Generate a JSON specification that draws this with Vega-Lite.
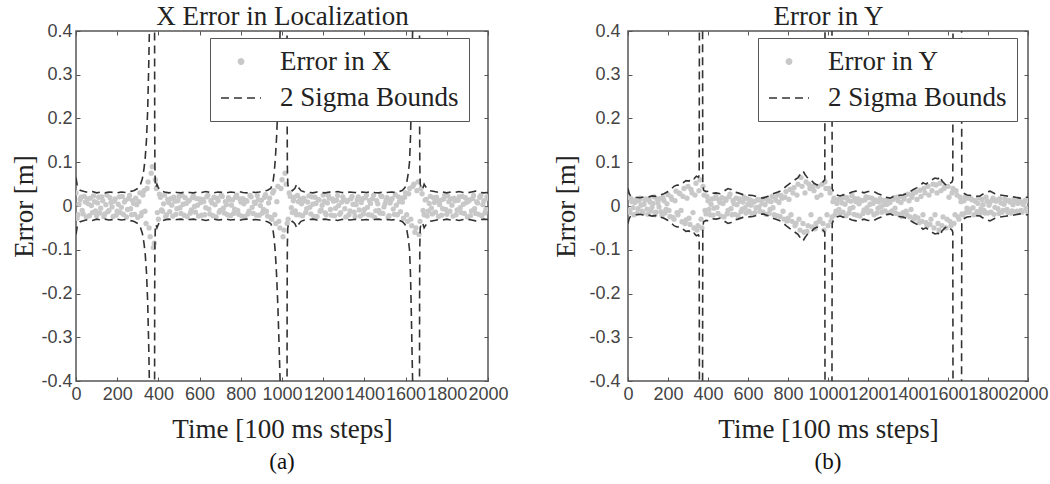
{
  "$schema": "https://vega.github.io/schema/vega-lite/v6.json",
  "background": "white",
  "padding": {"left": 10, "top": 1, "right": 5, "bottom": 2},
  "config": {
    "view": {"stroke": "#555", "strokeWidth": 1.5},
    "axis": {"grid": false, "domain": false, "tickColor": "#555", "tickSize": -4, "tickWidth": 1, "labelFont": "Liberation Sans", "labelFontSize": 18, "labelColor": "#444", "labelFlush": false, "labelOverlap": false, "titleFont": "Liberation Serif", "titleFontSize": 27, "titleFontWeight": "normal", "titleColor": "#222"},
    "title": {"font": "Liberation Serif", "fontSize": 23, "fontWeight": "normal", "color": "#111"},
    "legend": {"title": null, "orient": "none", "legendY": 7, "fillColor": "white", "strokeColor": "#555", "padding": 10, "labelOffset": 18, "rowPadding": 2, "labelFont": "Liberation Serif", "labelFontSize": 27, "labelColor": "#222", "labelLimit": 400, "symbolStrokeWidth": 1.5, "symbolOpacity": 1},
    "concat": {"spacing": 43}
  },
  "resolve": {"scale": {"color": "independent", "shape": "independent", "size": "independent", "strokeDash": "independent"}, "legend": {"color": "independent", "shape": "independent", "size": "independent", "strokeDash": "independent"}},
  "hconcat": [
    {
      "width": 412, "height": 350,
      "title": {"text": "(a)", "orient": "bottom", "offset": 9},
      "resolve": {"axis": {"x": "independent", "y": "independent"}},
      "layer": [
        {
          "data": {"values": [
{"t":0,"e":0.03},{"t":10,"e":-0.02},{"t":20,"e":0.015},{"t":30,"e":-0.01},{"t":40,"e":0.022},{"t":50,"e":-0.025},{"t":60,"e":0.005},{"t":70,"e":0.018},{"t":80,"e":-0.015},{"t":90,"e":0.01},
{"t":100,"e":-0.022},{"t":110,"e":0.02},{"t":120,"e":-0.005},{"t":130,"e":0.012},{"t":140,"e":-0.018},{"t":150,"e":0.025},{"t":160,"e":-0.01},{"t":170,"e":0.008},{"t":180,"e":-0.024},{"t":190,"e":0.016},
{"t":200,"e":-0.012},{"t":210,"e":0.021},{"t":220,"e":-0.003},{"t":230,"e":-0.019},{"t":240,"e":0.013},{"t":250,"e":-0.008},{"t":260,"e":0.024},{"t":270,"e":-0.02},{"t":280,"e":0.006},{"t":290,"e":0.018},
{"t":300,"e":-0.026},{"t":310,"e":0.03},{"t":320,"e":-0.015},{"t":330,"e":0.035},{"t":340,"e":-0.04},{"t":350,"e":0.055},{"t":360,"e":-0.07},{"t":370,"e":0.09},{"t":380,"e":-0.085},{"t":390,"e":0.04},
{"t":400,"e":-0.03},{"t":410,"e":0.02},{"t":420,"e":-0.012},{"t":430,"e":0.025},{"t":440,"e":-0.02},{"t":450,"e":0.008},{"t":460,"e":0.017},{"t":470,"e":-0.023},{"t":480,"e":0.011},{"t":490,"e":-0.006},
{"t":500,"e":0.022},{"t":510,"e":-0.017},{"t":520,"e":0.004},{"t":530,"e":0.019},{"t":540,"e":-0.024},{"t":550,"e":0.013},{"t":560,"e":-0.009},{"t":570,"e":0.023},{"t":580,"e":-0.014},{"t":590,"e":0.002},
{"t":600,"e":0.016},{"t":610,"e":-0.021},{"t":620,"e":0.01},{"t":630,"e":-0.004},{"t":640,"e":0.024},{"t":650,"e":-0.018},{"t":660,"e":0.007},{"t":670,"e":0.02},{"t":680,"e":-0.025},{"t":690,"e":0.012},
{"t":700,"e":-0.01},{"t":710,"e":0.022},{"t":720,"e":-0.016},{"t":730,"e":0.003},{"t":740,"e":0.019},{"t":750,"e":-0.022},{"t":760,"e":0.014},{"t":770,"e":-0.007},{"t":780,"e":0.025},{"t":790,"e":-0.019},
{"t":800,"e":0.009},{"t":810,"e":0.017},{"t":820,"e":-0.024},{"t":830,"e":0.011},{"t":840,"e":-0.012},{"t":850,"e":0.021},{"t":860,"e":-0.017},{"t":870,"e":0.006},{"t":880,"e":0.024},{"t":890,"e":-0.021},
{"t":900,"e":0.013},{"t":910,"e":-0.008},{"t":920,"e":0.026},{"t":930,"e":-0.023},{"t":940,"e":0.018},{"t":950,"e":-0.03},{"t":960,"e":0.035},{"t":970,"e":-0.04},{"t":980,"e":0.045},{"t":990,"e":-0.05},
{"t":1000,"e":0.06},{"t":1010,"e":-0.055},{"t":1020,"e":0.05},{"t":1030,"e":-0.03},{"t":1040,"e":0.022},{"t":1050,"e":-0.015},{"t":1060,"e":0.02},{"t":1070,"e":-0.02},{"t":1080,"e":0.01},{"t":1090,"e":0.016},
{"t":1100,"e":-0.022},{"t":1110,"e":0.012},{"t":1120,"e":-0.006},{"t":1130,"e":0.023},{"t":1140,"e":-0.018},{"t":1150,"e":0.004},{"t":1160,"e":0.02},{"t":1170,"e":-0.024},{"t":1180,"e":0.014},{"t":1190,"e":-0.009},
{"t":1200,"e":0.025},{"t":1210,"e":-0.016},{"t":1220,"e":0.007},{"t":1230,"e":0.018},{"t":1240,"e":-0.021},{"t":1250,"e":0.011},{"t":1260,"e":-0.005},{"t":1270,"e":0.024},{"t":1280,"e":-0.019},{"t":1290,"e":0.009},
{"t":1300,"e":0.015},{"t":1310,"e":-0.025},{"t":1320,"e":0.013},{"t":1330,"e":-0.011},{"t":1340,"e":0.022},{"t":1350,"e":-0.014},{"t":1360,"e":0.003},{"t":1370,"e":0.021},{"t":1380,"e":-0.023},{"t":1390,"e":0.016},
{"t":1400,"e":-0.008},{"t":1410,"e":0.025},{"t":1420,"e":-0.02},{"t":1430,"e":0.006},{"t":1440,"e":0.017},{"t":1450,"e":-0.026},{"t":1460,"e":0.012},{"t":1470,"e":-0.01},{"t":1480,"e":0.023},{"t":1490,"e":-0.017},
{"t":1500,"e":0.005},{"t":1510,"e":0.019},{"t":1520,"e":-0.022},{"t":1530,"e":0.014},{"t":1540,"e":-0.007},{"t":1550,"e":0.026},{"t":1560,"e":-0.02},{"t":1570,"e":0.01},{"t":1580,"e":0.018},{"t":1590,"e":-0.028},
{"t":1600,"e":0.03},{"t":1610,"e":-0.035},{"t":1620,"e":0.04},{"t":1630,"e":-0.045},{"t":1640,"e":0.05},{"t":1650,"e":-0.05},{"t":1660,"e":0.055},{"t":1670,"e":-0.035},{"t":1680,"e":0.028},{"t":1690,"e":-0.02},
{"t":1700,"e":0.015},{"t":1710,"e":-0.012},{"t":1720,"e":0.022},{"t":1730,"e":-0.018},{"t":1740,"e":0.008},{"t":1750,"e":0.02},{"t":1760,"e":-0.024},{"t":1770,"e":0.013},{"t":1780,"e":-0.006},{"t":1790,"e":0.025},
{"t":1800,"e":-0.019},{"t":1810,"e":0.01},{"t":1820,"e":0.016},{"t":1830,"e":-0.023},{"t":1840,"e":0.012},{"t":1850,"e":-0.009},{"t":1860,"e":0.021},{"t":1870,"e":-0.015},{"t":1880,"e":0.004},{"t":1890,"e":0.019},
{"t":1900,"e":-0.025},{"t":1910,"e":0.014},{"t":1920,"e":-0.011},{"t":1930,"e":0.024},{"t":1940,"e":-0.017},{"t":1950,"e":0.007},{"t":1960,"e":0.02},{"t":1970,"e":-0.022},{"t":1980,"e":0.012},{"t":1990,"e":-0.008},{"t":2000,"e":0.018},
{"t":5,"e":-0.028},{"t":15,"e":0.004},{"t":25,"e":0.02},{"t":35,"e":-0.018},{"t":45,"e":0.009},{"t":55,"e":0.016},{"t":65,"e":-0.022},{"t":75,"e":0.001},{"t":85,"e":0.023},{"t":95,"e":-0.011},
{"t":105,"e":0.007},{"t":115,"e":-0.016},{"t":125,"e":0.021},{"t":135,"e":-0.024},{"t":145,"e":0.003},{"t":155,"e":-0.013},{"t":165,"e":0.019},{"t":175,"e":-0.002},{"t":185,"e":0.011},{"t":195,"e":-0.021},
{"t":205,"e":0.004},{"t":215,"e":-0.015},{"t":225,"e":0.022},{"t":235,"e":0.009},{"t":245,"e":-0.025},{"t":255,"e":0.017},{"t":265,"e":-0.006},{"t":275,"e":0.012},{"t":285,"e":-0.019},{"t":295,"e":0.003},
{"t":305,"e":0.01},{"t":315,"e":-0.022},{"t":325,"e":0.025},{"t":335,"e":-0.012},{"t":345,"e":0.04},{"t":355,"e":-0.05},{"t":365,"e":0.075},{"t":375,"e":-0.095},{"t":385,"e":0.06},{"t":395,"e":-0.015},
{"t":405,"e":0.027},{"t":415,"e":-0.009},{"t":425,"e":0.005},{"t":435,"e":-0.024},{"t":445,"e":0.015},{"t":455,"e":-0.013},{"t":465,"e":0.002},{"t":475,"e":0.02},{"t":485,"e":-0.019},{"t":495,"e":0.012},
{"t":505,"e":-0.004},{"t":515,"e":0.024},{"t":525,"e":-0.021},{"t":535,"e":0.006},{"t":545,"e":0.011},{"t":555,"e":-0.016},{"t":565,"e":0.019},{"t":575,"e":-0.001},{"t":585,"e":0.017},{"t":595,"e":-0.023},
{"t":605,"e":0.008},{"t":615,"e":0.015},{"t":625,"e":-0.02},{"t":635,"e":0.021},{"t":645,"e":-0.007},{"t":655,"e":0.012},{"t":665,"e":-0.022},{"t":675,"e":0.003},{"t":685,"e":0.018},{"t":695,"e":-0.014},
{"t":705,"e":0.025},{"t":715,"e":-0.005},{"t":725,"e":0.01},{"t":735,"e":-0.02},{"t":745,"e":0.014},{"t":755,"e":0.002},{"t":765,"e":-0.017},{"t":775,"e":0.02},{"t":785,"e":-0.01},{"t":795,"e":0.016},
{"t":805,"e":-0.023},{"t":815,"e":0.005},{"t":825,"e":0.013},{"t":835,"e":-0.018},{"t":845,"e":0.024},{"t":855,"e":-0.003},{"t":865,"e":0.009},{"t":875,"e":-0.021},{"t":885,"e":0.014},{"t":895,"e":0.001},
{"t":905,"e":-0.016},{"t":915,"e":0.02},{"t":925,"e":-0.012},{"t":935,"e":0.007},{"t":945,"e":-0.026},{"t":955,"e":0.03},{"t":965,"e":-0.02},{"t":975,"e":0.01},{"t":985,"e":-0.035},{"t":995,"e":0.04},
{"t":1005,"e":-0.07},{"t":1015,"e":0.075},{"t":1025,"e":-0.04},{"t":1035,"e":0.03},{"t":1045,"e":-0.004},{"t":1055,"e":0.012},{"t":1065,"e":-0.011},{"t":1075,"e":0.024},{"t":1085,"e":-0.02},{"t":1095,"e":0.005},
{"t":1105,"e":0.018},{"t":1115,"e":-0.015},{"t":1125,"e":0.009},{"t":1135,"e":-0.003},{"t":1145,"e":0.021},{"t":1155,"e":-0.024},{"t":1165,"e":0.006},{"t":1175,"e":0.015},{"t":1185,"e":-0.012},{"t":1195,"e":0.002},
{"t":1205,"e":0.011},{"t":1215,"e":-0.02},{"t":1225,"e":0.024},{"t":1235,"e":-0.008},{"t":1245,"e":0.016},{"t":1255,"e":-0.022},{"t":1265,"e":0.013},{"t":1275,"e":0.001},{"t":1285,"e":-0.015},{"t":1295,"e":0.021},
{"t":1305,"e":-0.006},{"t":1315,"e":0.01},{"t":1325,"e":-0.02},{"t":1335,"e":0.017},{"t":1345,"e":0.004},{"t":1355,"e":-0.024},{"t":1365,"e":0.014},{"t":1375,"e":-0.009},{"t":1385,"e":0.008},{"t":1395,"e":-0.018},
{"t":1405,"e":0.019},{"t":1415,"e":-0.003},{"t":1425,"e":0.012},{"t":1435,"e":-0.021},{"t":1445,"e":0.025},{"t":1455,"e":-0.011},{"t":1465,"e":0.005},{"t":1475,"e":-0.016},{"t":1485,"e":0.022},{"t":1495,"e":-0.002},
{"t":1505,"e":0.013},{"t":1515,"e":-0.025},{"t":1525,"e":0.007},{"t":1535,"e":0.017},{"t":1545,"e":-0.019},{"t":1555,"e":0.002},{"t":1565,"e":0.021},{"t":1575,"e":-0.013},{"t":1585,"e":0.009},{"t":1595,"e":0.02},
{"t":1605,"e":-0.02},{"t":1615,"e":0.028},{"t":1625,"e":-0.03},{"t":1635,"e":0.045},{"t":1645,"e":-0.06},{"t":1655,"e":0.035},{"t":1665,"e":-0.065},{"t":1675,"e":0.04},{"t":1685,"e":-0.01},{"t":1695,"e":0.014},
{"t":1705,"e":-0.023},{"t":1715,"e":0.006},{"t":1725,"e":-0.005},{"t":1735,"e":0.019},{"t":1745,"e":-0.014},{"t":1755,"e":0.011},{"t":1765,"e":0.003},{"t":1775,"e":-0.021},{"t":1785,"e":0.016},{"t":1795,"e":-0.008},
{"t":1805,"e":0.023},{"t":1815,"e":-0.012},{"t":1825,"e":0.002},{"t":1835,"e":0.018},{"t":1845,"e":-0.02},{"t":1855,"e":0.013},{"t":1865,"e":-0.004},{"t":1875,"e":0.022},{"t":1885,"e":-0.017},{"t":1895,"e":0.008},
{"t":1905,"e":0.011},{"t":1915,"e":-0.022},{"t":1925,"e":0.017},{"t":1935,"e":-0.006},{"t":1945,"e":0.01},{"t":1955,"e":-0.019},{"t":1965,"e":0.024},{"t":1975,"e":0.003},{"t":1985,"e":-0.016},{"t":1995,"e":0.021}
          ]},
          "mark": {"type": "point", "filled": true, "opacity": 1, "strokeWidth": 0, "clip": true},
          "encoding": {
            "x": {"field": "t", "type": "quantitative", "scale": {"domain": [0, 2000], "nice": false}, "axis": null},
            "y": {"field": "e", "type": "quantitative", "scale": {"domain": [-0.4, 0.4], "nice": false}, "axis": null},
            "color": {"datum": "Error in X", "type": "nominal", "scale": {"domain": ["Error in X", "2 Sigma Bounds"], "range": ["#c8c8c8", "#333333"]}, "legend": {"legendX": 134}},
            "shape": {"datum": "Error in X", "type": "nominal", "scale": {"domain": ["Error in X", "2 Sigma Bounds"], "range": ["circle", "stroke"]}, "legend": {"legendX": 134}},
            "size": {"datum": "Error in X", "type": "ordinal", "scale": {"type": "ordinal", "domain": ["Error in X", "2 Sigma Bounds"], "range": [28, 1600]}, "legend": {"legendX": 134}}
          }
        },
        {
          "data": {"name": "bndA", "values": [
{"t":0,"u":0.065,"l":-0.065},{"t":5,"u":0.05,"l":-0.05},{"t":10,"u":0.042,"l":-0.042},{"t":20,"u":0.036,"l":-0.036},{"t":40,"u":0.033,"l":-0.033},{"t":60,"u":0.031,"l":-0.031},{"t":80,"u":0.033,"l":-0.033},{"t":100,"u":0.03,"l":-0.03},{"t":120,"u":0.032,"l":-0.032},{"t":140,"u":0.03,"l":-0.03},
{"t":160,"u":0.032,"l":-0.032},{"t":180,"u":0.031,"l":-0.031},{"t":200,"u":0.03,"l":-0.03},{"t":220,"u":0.032,"l":-0.032},{"t":240,"u":0.031,"l":-0.031},{"t":260,"u":0.033,"l":-0.033},{"t":280,"u":0.035,"l":-0.035},{"t":300,"u":0.04,"l":-0.04},{"t":312,"u":0.048,"l":-0.048},{"t":322,"u":0.062,"l":-0.062},
{"t":330,"u":0.085,"l":-0.085},{"t":336,"u":0.11,"l":-0.11},{"t":342,"u":0.15,"l":-0.15},{"t":348,"u":0.22,"l":-0.22},{"t":353,"u":0.32,"l":-0.32},{"t":357,"u":0.42,"l":-0.42},{"t":363,"u":0.6,"l":-0.6},{"t":370,"u":0.9,"l":-0.9},{"t":376,"u":1.3,"l":-1.3},{"t":380,"u":1.5,"l":-1.5},
{"t":381,"u":0.6,"l":-0.6},{"t":382,"u":0.2,"l":-0.2},{"t":383,"u":0.09,"l":-0.09},{"t":385,"u":0.05,"l":-0.05},{"t":388,"u":0.042,"l":-0.042},{"t":393,"u":0.05,"l":-0.05},{"t":398,"u":0.044,"l":-0.044},{"t":405,"u":0.037,"l":-0.037},{"t":415,"u":0.034,"l":-0.034},{"t":430,"u":0.032,"l":-0.032},
{"t":450,"u":0.03,"l":-0.03},{"t":470,"u":0.032,"l":-0.032},{"t":490,"u":0.031,"l":-0.031},{"t":510,"u":0.03,"l":-0.03},{"t":530,"u":0.032,"l":-0.032},{"t":550,"u":0.031,"l":-0.031},{"t":570,"u":0.03,"l":-0.03},{"t":590,"u":0.032,"l":-0.032},{"t":610,"u":0.031,"l":-0.031},{"t":630,"u":0.033,"l":-0.033},
{"t":650,"u":0.031,"l":-0.031},{"t":670,"u":0.03,"l":-0.03},{"t":690,"u":0.032,"l":-0.032},{"t":710,"u":0.031,"l":-0.031},{"t":730,"u":0.03,"l":-0.03},{"t":750,"u":0.032,"l":-0.032},{"t":770,"u":0.031,"l":-0.031},{"t":790,"u":0.033,"l":-0.033},{"t":810,"u":0.031,"l":-0.031},{"t":830,"u":0.03,"l":-0.03},
{"t":850,"u":0.032,"l":-0.032},{"t":870,"u":0.031,"l":-0.031},{"t":890,"u":0.032,"l":-0.032},{"t":910,"u":0.034,"l":-0.034},{"t":930,"u":0.036,"l":-0.036},{"t":945,"u":0.04,"l":-0.04},{"t":955,"u":0.05,"l":-0.05},{"t":962,"u":0.075,"l":-0.075},{"t":968,"u":0.11,"l":-0.11},{"t":974,"u":0.16,"l":-0.16},
{"t":980,"u":0.23,"l":-0.23},{"t":986,"u":0.32,"l":-0.32},{"t":992,"u":0.42,"l":-0.42},{"t":1000,"u":0.65,"l":-0.65},{"t":1010,"u":1.0,"l":-1.0},{"t":1018,"u":1.3,"l":-1.3},{"t":1023,"u":1.5,"l":-1.5},{"t":1024,"u":0.6,"l":-0.6},{"t":1025,"u":0.2,"l":-0.2},{"t":1026,"u":0.09,"l":-0.09},
{"t":1028,"u":0.05,"l":-0.05},{"t":1032,"u":0.042,"l":-0.042},{"t":1040,"u":0.038,"l":-0.038},{"t":1050,"u":0.035,"l":-0.035},{"t":1062,"u":0.04,"l":-0.04},{"t":1072,"u":0.05,"l":-0.05},{"t":1080,"u":0.042,"l":-0.042},{"t":1092,"u":0.035,"l":-0.035},{"t":1110,"u":0.032,"l":-0.032},{"t":1130,"u":0.031,"l":-0.031},
{"t":1150,"u":0.03,"l":-0.03},{"t":1170,"u":0.032,"l":-0.032},{"t":1190,"u":0.031,"l":-0.031},{"t":1210,"u":0.03,"l":-0.03},{"t":1230,"u":0.032,"l":-0.032},{"t":1250,"u":0.031,"l":-0.031},{"t":1270,"u":0.033,"l":-0.033},{"t":1290,"u":0.031,"l":-0.031},{"t":1310,"u":0.03,"l":-0.03},{"t":1330,"u":0.032,"l":-0.032},
{"t":1350,"u":0.031,"l":-0.031},{"t":1370,"u":0.03,"l":-0.03},{"t":1390,"u":0.032,"l":-0.032},{"t":1410,"u":0.031,"l":-0.031},{"t":1430,"u":0.033,"l":-0.033},{"t":1450,"u":0.031,"l":-0.031},{"t":1470,"u":0.03,"l":-0.03},{"t":1490,"u":0.032,"l":-0.032},{"t":1510,"u":0.031,"l":-0.031},{"t":1530,"u":0.032,"l":-0.032},
{"t":1550,"u":0.031,"l":-0.031},{"t":1570,"u":0.033,"l":-0.033},{"t":1585,"u":0.036,"l":-0.036},{"t":1597,"u":0.042,"l":-0.042},{"t":1606,"u":0.055,"l":-0.055},{"t":1613,"u":0.075,"l":-0.075},{"t":1619,"u":0.1,"l":-0.1},{"t":1624,"u":0.16,"l":-0.16},{"t":1628,"u":0.25,"l":-0.25},{"t":1632,"u":0.35,"l":-0.35},
{"t":1636,"u":0.45,"l":-0.45},{"t":1645,"u":0.75,"l":-0.75},{"t":1655,"u":1.1,"l":-1.1},{"t":1663,"u":1.4,"l":-1.4},{"t":1666,"u":1.5,"l":-1.5},{"t":1667,"u":0.6,"l":-0.6},{"t":1668,"u":0.2,"l":-0.2},{"t":1669,"u":0.09,"l":-0.09},{"t":1671,"u":0.05,"l":-0.05},{"t":1675,"u":0.042,"l":-0.042},
{"t":1682,"u":0.038,"l":-0.038},{"t":1690,"u":0.05,"l":-0.05},{"t":1696,"u":0.045,"l":-0.045},{"t":1705,"u":0.04,"l":-0.04},{"t":1720,"u":0.035,"l":-0.035},{"t":1740,"u":0.033,"l":-0.033},{"t":1760,"u":0.031,"l":-0.031},{"t":1780,"u":0.032,"l":-0.032},{"t":1800,"u":0.03,"l":-0.03},{"t":1820,"u":0.032,"l":-0.032},
{"t":1840,"u":0.031,"l":-0.031},{"t":1860,"u":0.033,"l":-0.033},{"t":1880,"u":0.031,"l":-0.031},{"t":1900,"u":0.03,"l":-0.03},{"t":1920,"u":0.032,"l":-0.032},{"t":1940,"u":0.034,"l":-0.034},{"t":1960,"u":0.031,"l":-0.031},{"t":1980,"u":0.03,"l":-0.03},{"t":2000,"u":0.031,"l":-0.031}
          ]},
          "mark": {"type": "line", "strokeWidth": 1.6, "clip": true},
          "encoding": {
            "x": {"field": "t", "type": "quantitative", "axis": {"orient": "bottom", "values": [0,200,400,600,800,1000,1200,1400,1600,1800,2000], "format": "d", "title": "Time [100 ms steps]", "labelPadding": 8, "titlePadding": 13}},
            "y": {"field": "u", "type": "quantitative", "axis": {"orient": "left", "values": [-0.4,-0.3,-0.2,-0.1,0,0.1,0.2,0.3,0.4], "labelExpr": "datum.value === 0 ? '0' : replace(format(datum.value, '.1f'), '\u2212', '-')", "title": "Error [m]", "labelPadding": 8, "titlePadding": 2}},
            "color": {"datum": "2 Sigma Bounds", "type": "nominal"},
            "strokeDash": {"datum": "2 Sigma Bounds", "type": "nominal", "scale": {"domain": ["Error in X", "2 Sigma Bounds"], "range": [[1, 0], [8, 5]]}, "legend": {"legendX": 134}}
          }
        },
        {
          "data": {"name": "bndA"},
          "mark": {"type": "line", "strokeWidth": 1.6, "clip": true},
          "encoding": {
            "x": {"field": "t", "type": "quantitative", "axis": {"orient": "top", "values": [0,200,400,600,800,1000,1200,1400,1600,1800,2000], "labels": false, "title": "X Error in Localization", "titlePadding": 0}},
            "y": {"field": "l", "type": "quantitative", "axis": {"orient": "right", "values": [-0.4,-0.3,-0.2,-0.1,0,0.1,0.2,0.3,0.4], "labels": false, "title": null}},
            "color": {"datum": "2 Sigma Bounds", "type": "nominal"},
            "strokeDash": {"datum": "2 Sigma Bounds", "type": "nominal"}
          }
        }
      ]
    },
    {
      "width": 400, "height": 350,
      "title": {"text": "(b)", "orient": "bottom", "offset": 9},
      "resolve": {"axis": {"x": "independent", "y": "independent"}},
      "layer": [
        {
          "data": {"values": [
{"t":0,"e":0.02},{"t":10,"e":-0.015},{"t":20,"e":0.01},{"t":30,"e":-0.02},{"t":40,"e":0.014},{"t":50,"e":-0.006},{"t":60,"e":0.018},{"t":70,"e":-0.012},{"t":80,"e":0.004},{"t":90,"e":0.016},
{"t":100,"e":-0.019},{"t":110,"e":0.009},{"t":120,"e":-0.003},{"t":130,"e":0.021},{"t":140,"e":-0.014},{"t":150,"e":0.007},{"t":160,"e":0.017},{"t":170,"e":-0.022},{"t":180,"e":0.012},{"t":190,"e":-0.008},
{"t":200,"e":0.026},{"t":210,"e":-0.024},{"t":220,"e":0.015},{"t":230,"e":-0.03},{"t":240,"e":0.034},{"t":250,"e":-0.02},{"t":260,"e":0.028},{"t":270,"e":-0.036},{"t":280,"e":0.04},{"t":290,"e":-0.032},
{"t":300,"e":0.045},{"t":310,"e":-0.042},{"t":320,"e":0.03},{"t":330,"e":-0.05},{"t":340,"e":0.052},{"t":350,"e":-0.045},{"t":360,"e":0.06},{"t":370,"e":-0.05},{"t":380,"e":0.025},{"t":390,"e":-0.018},
{"t":400,"e":0.012},{"t":410,"e":-0.02},{"t":420,"e":0.016},{"t":430,"e":-0.005},{"t":440,"e":0.022},{"t":450,"e":-0.017},{"t":460,"e":0.008},{"t":470,"e":0.019},{"t":480,"e":-0.025},{"t":490,"e":0.013},
{"t":500,"e":-0.01},{"t":510,"e":0.027},{"t":520,"e":-0.02},{"t":530,"e":0.005},{"t":540,"e":0.018},{"t":550,"e":-0.022},{"t":560,"e":0.011},{"t":570,"e":-0.007},{"t":580,"e":0.02},{"t":590,"e":-0.016},
{"t":600,"e":0.004},{"t":610,"e":0.014},{"t":620,"e":-0.018},{"t":630,"e":0.009},{"t":640,"e":-0.004},{"t":650,"e":0.015},{"t":660,"e":-0.012},{"t":670,"e":0.006},{"t":680,"e":0.017},{"t":690,"e":-0.019},
{"t":700,"e":0.012},{"t":710,"e":-0.008},{"t":720,"e":0.022},{"t":730,"e":-0.02},{"t":740,"e":0.013},{"t":750,"e":0.026},{"t":760,"e":-0.024},{"t":770,"e":0.018},{"t":780,"e":-0.03},{"t":790,"e":0.033},
{"t":800,"e":-0.028},{"t":810,"e":0.038},{"t":820,"e":-0.035},{"t":830,"e":0.042},{"t":840,"e":-0.04},{"t":850,"e":0.05},{"t":860,"e":-0.055},{"t":870,"e":0.045},{"t":880,"e":-0.06},{"t":890,"e":0.055},
{"t":900,"e":-0.045},{"t":910,"e":0.04},{"t":920,"e":-0.048},{"t":930,"e":0.035},{"t":940,"e":-0.04},{"t":950,"e":0.045},{"t":960,"e":-0.03},{"t":970,"e":0.05},{"t":980,"e":-0.055},{"t":990,"e":0.04},
{"t":1000,"e":-0.045},{"t":1010,"e":0.03},{"t":1020,"e":-0.025},{"t":1030,"e":0.018},{"t":1040,"e":-0.012},{"t":1050,"e":0.015},{"t":1060,"e":-0.018},{"t":1070,"e":0.007},{"t":1080,"e":0.02},{"t":1090,"e":-0.022},
{"t":1100,"e":0.013},{"t":1110,"e":-0.006},{"t":1120,"e":0.024},{"t":1130,"e":-0.019},{"t":1140,"e":0.01},{"t":1150,"e":0.016},{"t":1160,"e":-0.023},{"t":1170,"e":0.012},{"t":1180,"e":-0.009},{"t":1190,"e":0.021},
{"t":1200,"e":-0.015},{"t":1210,"e":0.004},{"t":1220,"e":0.018},{"t":1230,"e":-0.02},{"t":1240,"e":0.011},{"t":1250,"e":-0.005},{"t":1260,"e":0.017},{"t":1270,"e":-0.014},{"t":1280,"e":0.003},{"t":1290,"e":0.013},
{"t":1300,"e":-0.016},{"t":1310,"e":0.008},{"t":1320,"e":-0.011},{"t":1330,"e":0.019},{"t":1340,"e":-0.017},{"t":1350,"e":0.012},{"t":1360,"e":0.022},{"t":1370,"e":-0.024},{"t":1380,"e":0.016},{"t":1390,"e":-0.012},
{"t":1400,"e":0.027},{"t":1410,"e":-0.025},{"t":1420,"e":0.02},{"t":1430,"e":-0.03},{"t":1440,"e":0.032},{"t":1450,"e":-0.027},{"t":1460,"e":0.036},{"t":1470,"e":-0.035},{"t":1480,"e":0.04},{"t":1490,"e":-0.038},
{"t":1500,"e":0.045},{"t":1510,"e":-0.042},{"t":1520,"e":0.035},{"t":1530,"e":-0.05},{"t":1540,"e":0.048},{"t":1550,"e":-0.04},{"t":1560,"e":0.052},{"t":1570,"e":-0.045},{"t":1580,"e":0.04},{"t":1590,"e":-0.05},
{"t":1600,"e":0.045},{"t":1610,"e":-0.035},{"t":1620,"e":0.03},{"t":1630,"e":-0.04},{"t":1640,"e":0.035},{"t":1650,"e":-0.025},{"t":1660,"e":0.02},{"t":1670,"e":-0.018},{"t":1680,"e":0.012},{"t":1690,"e":-0.015},
{"t":1700,"e":0.018},{"t":1710,"e":-0.008},{"t":1720,"e":0.014},{"t":1730,"e":-0.02},{"t":1740,"e":0.01},{"t":1750,"e":0.006},{"t":1760,"e":-0.017},{"t":1770,"e":0.015},{"t":1780,"e":-0.01},{"t":1790,"e":0.02},
{"t":1800,"e":-0.016},{"t":1810,"e":0.008},{"t":1820,"e":0.013},{"t":1830,"e":-0.019},{"t":1840,"e":0.011},{"t":1850,"e":-0.006},{"t":1860,"e":0.017},{"t":1870,"e":-0.014},{"t":1880,"e":0.004},{"t":1890,"e":0.012},
{"t":1900,"e":-0.015},{"t":1910,"e":0.009},{"t":1920,"e":-0.011},{"t":1930,"e":0.016},{"t":1940,"e":-0.013},{"t":1950,"e":0.006},{"t":1960,"e":0.01},{"t":1970,"e":-0.014},{"t":1980,"e":0.008},{"t":1990,"e":-0.005},{"t":2000,"e":0.012},
{"t":5,"e":-0.01},{"t":15,"e":0.017},{"t":25,"e":-0.004},{"t":35,"e":0.008},{"t":45,"e":-0.017},{"t":55,"e":0.012},{"t":65,"e":0.002},{"t":75,"e":-0.016},{"t":85,"e":0.013},{"t":95,"e":-0.007},
{"t":105,"e":0.015},{"t":115,"e":-0.011},{"t":125,"e":0.006},{"t":135,"e":-0.02},{"t":145,"e":0.016},{"t":155,"e":-0.002},{"t":165,"e":-0.013},{"t":175,"e":0.019},{"t":185,"e":-0.016},{"t":195,"e":0.005},
{"t":205,"e":-0.01},{"t":215,"e":0.021},{"t":225,"e":-0.026},{"t":235,"e":0.012},{"t":245,"e":-0.015},{"t":255,"e":0.03},{"t":265,"e":-0.01},{"t":275,"e":0.022},{"t":285,"e":-0.04},{"t":295,"e":0.018},
{"t":305,"e":-0.028},{"t":315,"e":0.038},{"t":325,"e":-0.015},{"t":335,"e":0.025},{"t":345,"e":-0.055},{"t":355,"e":0.035},{"t":365,"e":-0.03},{"t":375,"e":0.045},{"t":385,"e":-0.01},{"t":395,"e":0.022},
{"t":405,"e":-0.008},{"t":415,"e":0.004},{"t":425,"e":-0.021},{"t":435,"e":0.018},{"t":445,"e":-0.003},{"t":455,"e":0.014},{"t":465,"e":-0.023},{"t":475,"e":0.006},{"t":485,"e":0.016},{"t":495,"e":-0.018},
{"t":505,"e":0.021},{"t":515,"e":-0.006},{"t":525,"e":0.012},{"t":535,"e":-0.019},{"t":545,"e":0.003},{"t":555,"e":0.016},{"t":565,"e":-0.013},{"t":575,"e":0.009},{"t":585,"e":-0.004},{"t":595,"e":0.017},
{"t":605,"e":-0.012},{"t":615,"e":0.002},{"t":625,"e":0.011},{"t":635,"e":-0.015},{"t":645,"e":0.013},{"t":655,"e":-0.002},{"t":665,"e":0.014},{"t":675,"e":-0.014},{"t":685,"e":0.003},{"t":695,"e":0.016},
{"t":705,"e":-0.017},{"t":715,"e":0.01},{"t":725,"e":-0.004},{"t":735,"e":0.02},{"t":745,"e":-0.022},{"t":755,"e":0.008},{"t":765,"e":0.024},{"t":775,"e":-0.012},{"t":785,"e":0.02},{"t":795,"e":-0.034},
{"t":805,"e":0.015},{"t":815,"e":-0.02},{"t":825,"e":0.03},{"t":835,"e":-0.045},{"t":845,"e":0.025},{"t":855,"e":-0.03},{"t":865,"e":0.065},{"t":875,"e":-0.04},{"t":885,"e":0.03},{"t":895,"e":-0.058},
{"t":905,"e":0.05},{"t":915,"e":-0.02},{"t":925,"e":0.045},{"t":935,"e":-0.052},{"t":945,"e":0.02},{"t":955,"e":-0.035},{"t":965,"e":0.025},{"t":975,"e":-0.04},{"t":985,"e":0.055},{"t":995,"e":-0.02},
{"t":1005,"e":0.04},{"t":1015,"e":-0.035},{"t":1025,"e":0.01},{"t":1035,"e":-0.02},{"t":1045,"e":0.006},{"t":1055,"e":-0.008},{"t":1065,"e":0.016},{"t":1075,"e":-0.014},{"t":1085,"e":0.004},{"t":1095,"e":0.019},
{"t":1105,"e":-0.016},{"t":1115,"e":0.011},{"t":1125,"e":-0.003},{"t":1135,"e":0.017},{"t":1145,"e":-0.021},{"t":1155,"e":0.005},{"t":1165,"e":0.013},{"t":1175,"e":-0.017},{"t":1185,"e":0.014},{"t":1195,"e":-0.004},
{"t":1205,"e":0.019},{"t":1215,"e":-0.012},{"t":1225,"e":0.006},{"t":1235,"e":0.014},{"t":1245,"e":-0.016},{"t":1255,"e":0.009},{"t":1265,"e":-0.002},{"t":1275,"e":0.013},{"t":1285,"e":-0.011},{"t":1295,"e":0.004},
{"t":1305,"e":0.01},{"t":1315,"e":-0.014},{"t":1325,"e":0.015},{"t":1335,"e":-0.005},{"t":1345,"e":0.02},{"t":1355,"e":-0.019},{"t":1365,"e":0.008},{"t":1375,"e":-0.015},{"t":1385,"e":0.024},{"t":1395,"e":-0.02},
{"t":1405,"e":0.012},{"t":1415,"e":-0.008},{"t":1425,"e":0.028},{"t":1435,"e":-0.024},{"t":1445,"e":0.015},{"t":1455,"e":-0.038},{"t":1465,"e":0.022},{"t":1475,"e":-0.02},{"t":1485,"e":0.03},{"t":1495,"e":-0.045},
{"t":1505,"e":0.025},{"t":1515,"e":-0.03},{"t":1525,"e":0.05},{"t":1535,"e":-0.02},{"t":1545,"e":0.03},{"t":1555,"e":-0.055},{"t":1565,"e":0.035},{"t":1575,"e":-0.025},{"t":1585,"e":0.045},{"t":1595,"e":-0.03},
{"t":1605,"e":0.02},{"t":1615,"e":-0.045},{"t":1625,"e":0.04},{"t":1635,"e":-0.02},{"t":1645,"e":0.025},{"t":1655,"e":-0.03},{"t":1665,"e":0.01},{"t":1675,"e":-0.02},{"t":1685,"e":0.02},{"t":1695,"e":-0.005},
{"t":1705,"e":-0.014},{"t":1715,"e":0.017},{"t":1725,"e":-0.004},{"t":1735,"e":0.012},{"t":1745,"e":-0.013},{"t":1755,"e":0.019},{"t":1765,"e":-0.006},{"t":1775,"e":0.003},{"t":1785,"e":-0.016},{"t":1795,"e":0.011},
{"t":1805,"e":0.002},{"t":1815,"e":-0.014},{"t":1825,"e":0.018},{"t":1835,"e":-0.003},{"t":1845,"e":0.014},{"t":1855,"e":-0.017},{"t":1865,"e":0.007},{"t":1875,"e":-0.01},{"t":1885,"e":0.016},{"t":1895,"e":-0.008},
{"t":1905,"e":0.013},{"t":1915,"e":-0.016},{"t":1925,"e":0.003},{"t":1935,"e":0.01},{"t":1945,"e":-0.012},{"t":1955,"e":0.015},{"t":1965,"e":-0.01},{"t":1975,"e":0.004},{"t":1985,"e":0.013},{"t":1995,"e":-0.012}
          ]},
          "mark": {"type": "point", "filled": true, "opacity": 1, "strokeWidth": 0, "clip": true},
          "encoding": {
            "x": {"field": "t", "type": "quantitative", "scale": {"domain": [0, 2000], "nice": false}, "axis": null},
            "y": {"field": "e", "type": "quantitative", "scale": {"domain": [-0.4, 0.4], "nice": false}, "axis": null},
            "color": {"datum": "Error in Y", "type": "nominal", "scale": {"domain": ["Error in Y", "2 Sigma Bounds"], "range": ["#c8c8c8", "#333333"]}, "legend": {"legendX": 130}},
            "shape": {"datum": "Error in Y", "type": "nominal", "scale": {"domain": ["Error in Y", "2 Sigma Bounds"], "range": ["circle", "stroke"]}, "legend": {"legendX": 130}},
            "size": {"datum": "Error in Y", "type": "ordinal", "scale": {"type": "ordinal", "domain": ["Error in Y", "2 Sigma Bounds"], "range": [28, 1600]}, "legend": {"legendX": 130}}
          }
        },
        {
          "data": {"name": "bndB", "values": [
{"t":0,"u":0.04,"l":-0.04},{"t":5,"u":0.03,"l":-0.03},{"t":10,"u":0.025,"l":-0.025},{"t":20,"u":0.022,"l":-0.022},{"t":40,"u":0.02,"l":-0.02},{"t":60,"u":0.019,"l":-0.019},{"t":80,"u":0.021,"l":-0.021},{"t":100,"u":0.02,"l":-0.02},{"t":120,"u":0.023,"l":-0.023},{"t":140,"u":0.022,"l":-0.022},
{"t":160,"u":0.025,"l":-0.025},{"t":180,"u":0.028,"l":-0.028},{"t":200,"u":0.033,"l":-0.033},{"t":215,"u":0.038,"l":-0.038},{"t":230,"u":0.045,"l":-0.045},{"t":245,"u":0.048,"l":-0.048},{"t":260,"u":0.047,"l":-0.047},{"t":275,"u":0.053,"l":-0.053},{"t":290,"u":0.058,"l":-0.058},{"t":305,"u":0.057,"l":-0.057},
{"t":318,"u":0.064,"l":-0.064},{"t":330,"u":0.062,"l":-0.062},{"t":342,"u":0.068,"l":-0.068},{"t":352,"u":0.066,"l":-0.066},{"t":356,"u":0.07,"l":-0.07},{"t":357,"u":0.4,"l":-0.4},{"t":358,"u":1.5,"l":-1.5},{"t":372,"u":1.5,"l":-1.5},{"t":373,"u":0.3,"l":-0.3},{"t":374,"u":0.05,"l":-0.05},
{"t":378,"u":0.036,"l":-0.036},{"t":390,"u":0.033,"l":-0.033},{"t":405,"u":0.034,"l":-0.034},{"t":420,"u":0.029,"l":-0.029},{"t":440,"u":0.03,"l":-0.03},{"t":460,"u":0.028,"l":-0.028},{"t":480,"u":0.034,"l":-0.034},{"t":500,"u":0.04,"l":-0.04},{"t":515,"u":0.038,"l":-0.038},{"t":530,"u":0.032,"l":-0.032},
{"t":550,"u":0.03,"l":-0.03},{"t":575,"u":0.026,"l":-0.026},{"t":600,"u":0.025,"l":-0.025},{"t":625,"u":0.024,"l":-0.024},{"t":650,"u":0.02,"l":-0.02},{"t":675,"u":0.018,"l":-0.018},{"t":700,"u":0.022,"l":-0.022},{"t":725,"u":0.028,"l":-0.028},{"t":750,"u":0.032,"l":-0.032},{"t":770,"u":0.036,"l":-0.036},
{"t":790,"u":0.045,"l":-0.045},{"t":805,"u":0.05,"l":-0.05},{"t":820,"u":0.055,"l":-0.055},{"t":835,"u":0.06,"l":-0.06},{"t":850,"u":0.065,"l":-0.065},{"t":865,"u":0.075,"l":-0.075},{"t":875,"u":0.08,"l":-0.08},{"t":885,"u":0.072,"l":-0.072},{"t":895,"u":0.066,"l":-0.066},{"t":905,"u":0.06,"l":-0.06},
{"t":918,"u":0.058,"l":-0.058},{"t":930,"u":0.052,"l":-0.052},{"t":945,"u":0.048,"l":-0.048},{"t":960,"u":0.05,"l":-0.05},{"t":975,"u":0.055,"l":-0.055},{"t":984,"u":0.06,"l":-0.06},{"t":985,"u":0.4,"l":-0.4},{"t":986,"u":1.5,"l":-1.5},{"t":1019,"u":1.5,"l":-1.5},{"t":1020,"u":0.3,"l":-0.3},
{"t":1021,"u":0.04,"l":-0.04},{"t":1030,"u":0.03,"l":-0.03},{"t":1045,"u":0.025,"l":-0.025},{"t":1060,"u":0.023,"l":-0.023},{"t":1080,"u":0.026,"l":-0.026},{"t":1100,"u":0.028,"l":-0.028},{"t":1120,"u":0.032,"l":-0.032},{"t":1140,"u":0.034,"l":-0.034},{"t":1160,"u":0.033,"l":-0.033},{"t":1180,"u":0.03,"l":-0.03},
{"t":1200,"u":0.033,"l":-0.033},{"t":1225,"u":0.034,"l":-0.034},{"t":1250,"u":0.028,"l":-0.028},{"t":1270,"u":0.025,"l":-0.025},{"t":1290,"u":0.02,"l":-0.02},{"t":1310,"u":0.018,"l":-0.018},{"t":1330,"u":0.022,"l":-0.022},{"t":1350,"u":0.024,"l":-0.024},{"t":1375,"u":0.025,"l":-0.025},{"t":1400,"u":0.03,"l":-0.03},
{"t":1425,"u":0.037,"l":-0.037},{"t":1445,"u":0.042,"l":-0.042},{"t":1460,"u":0.046,"l":-0.046},{"t":1475,"u":0.053,"l":-0.053},{"t":1490,"u":0.05,"l":-0.05},{"t":1505,"u":0.055,"l":-0.055},{"t":1520,"u":0.06,"l":-0.06},{"t":1535,"u":0.064,"l":-0.064},{"t":1550,"u":0.062,"l":-0.062},{"t":1560,"u":0.068,"l":-0.068},
{"t":1570,"u":0.057,"l":-0.057},{"t":1585,"u":0.05,"l":-0.05},{"t":1595,"u":0.046,"l":-0.046},{"t":1605,"u":0.05,"l":-0.05},{"t":1620,"u":0.055,"l":-0.055},{"t":1624,"u":0.06,"l":-0.06},{"t":1625,"u":0.4,"l":-0.4},{"t":1626,"u":1.5,"l":-1.5},{"t":1667,"u":1.5,"l":-1.5},{"t":1668,"u":0.3,"l":-0.3},
{"t":1669,"u":0.04,"l":-0.04},{"t":1675,"u":0.03,"l":-0.03},{"t":1695,"u":0.025,"l":-0.025},{"t":1720,"u":0.024,"l":-0.024},{"t":1740,"u":0.022,"l":-0.022},{"t":1760,"u":0.023,"l":-0.023},{"t":1785,"u":0.03,"l":-0.03},{"t":1810,"u":0.034,"l":-0.034},{"t":1835,"u":0.028,"l":-0.028},{"t":1860,"u":0.025,"l":-0.025},
{"t":1895,"u":0.023,"l":-0.023},{"t":1925,"u":0.021,"l":-0.021},{"t":1960,"u":0.018,"l":-0.018},{"t":1980,"u":0.02,"l":-0.02},{"t":2000,"u":0.02,"l":-0.02}
          ]},
          "mark": {"type": "line", "strokeWidth": 1.6, "clip": true},
          "encoding": {
            "x": {"field": "t", "type": "quantitative", "axis": {"orient": "bottom", "values": [0,200,400,600,800,1000,1200,1400,1600,1800,2000], "format": "d", "title": "Time [100 ms steps]", "labelPadding": 8, "titlePadding": 13}},
            "y": {"field": "u", "type": "quantitative", "axis": {"orient": "left", "values": [-0.4,-0.3,-0.2,-0.1,0,0.1,0.2,0.3,0.4], "labelExpr": "datum.value === 0 ? '0' : replace(format(datum.value, '.1f'), '\u2212', '-')", "title": "Error [m]", "labelPadding": 12, "titlePadding": 8}},
            "color": {"datum": "2 Sigma Bounds", "type": "nominal"},
            "strokeDash": {"datum": "2 Sigma Bounds", "type": "nominal", "scale": {"domain": ["Error in Y", "2 Sigma Bounds"], "range": [[1, 0], [8, 5]]}, "legend": {"legendX": 130}}
          }
        },
        {
          "data": {"name": "bndB"},
          "mark": {"type": "line", "strokeWidth": 1.6, "clip": true},
          "encoding": {
            "x": {"field": "t", "type": "quantitative", "axis": {"orient": "top", "values": [0,200,400,600,800,1000,1200,1400,1600,1800,2000], "labels": false, "title": "Error in Y", "titlePadding": 0}},
            "y": {"field": "l", "type": "quantitative", "axis": {"orient": "right", "values": [-0.4,-0.3,-0.2,-0.1,0,0.1,0.2,0.3,0.4], "labels": false, "title": null}},
            "color": {"datum": "2 Sigma Bounds", "type": "nominal"},
            "strokeDash": {"datum": "2 Sigma Bounds", "type": "nominal"}
          }
        }
      ]
    }
  ]
}
